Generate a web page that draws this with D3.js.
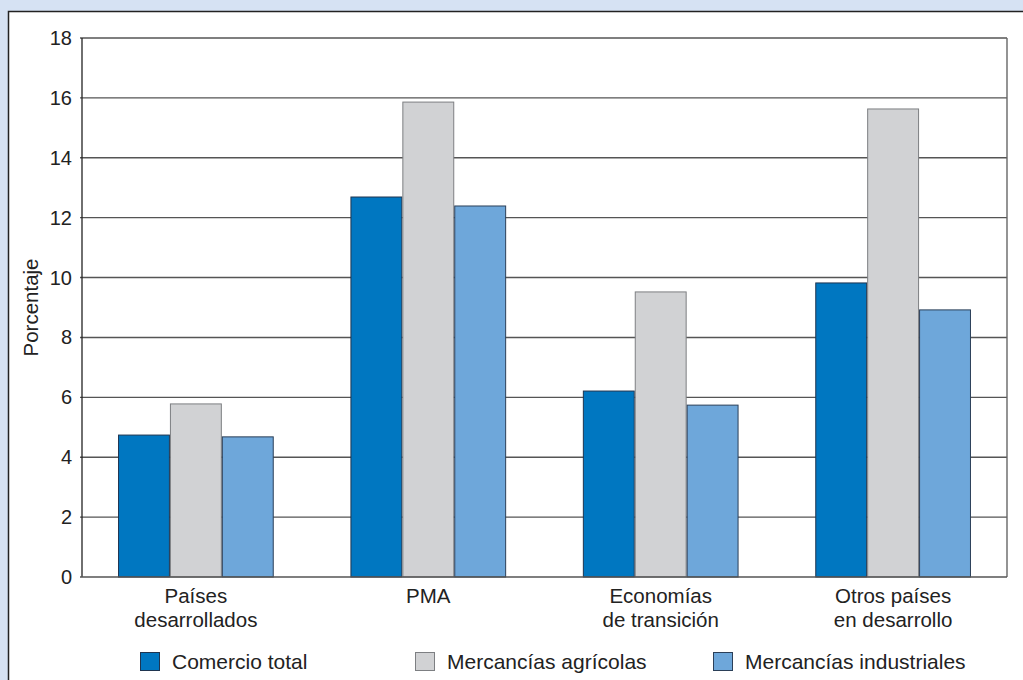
<!DOCTYPE html>
<html>
<head>
<meta charset="utf-8">
<script src="https://cdn.jsdelivr.net/npm/d3@7"></script>
<style>
  body { margin: 0; background: #d6e2f3; }
  svg { display: block; font-family: "Liberation Sans", Arial, sans-serif; }
</style>
</head>
<body>
<div id="chart"></div>
<script>
// categories (two-line labels)
var categories = [
    ['Países', 'desarrollados'],
    ['PMA'],
    ['Economías', 'de transición'],
    ['Otros países', 'en desarrollo']
];
var series = ['Comercio total', 'Mercancías agrícolas', 'Mercancías industriales'];
var comercio_total = [4.74, 12.69, 6.21, 9.82];
var agricolas      = [5.78, 15.86, 9.52, 15.63];
var industriales   = [4.68, 12.39, 5.74, 8.92];
var y_ticks = [0, 2, 4, 6, 8, 10, 12, 14, 16, 18];

var colors  = ['#0077c1', '#d1d2d4', '#6ea7da'];
var strokes = ['#1f3550', '#7d7f82', '#2b3f58'];

var width = 1023, height = 680;
var margin = {left: 82, top: 38, right: 1007, bottom: 577};

var svg = d3.select('#chart').append('svg')
    .attr('width', width)
    .attr('height', height);

// white panel
svg.append('rect')
    .attr('x', 8.5).attr('y', 11.5)
    .attr('width', width).attr('height', height)
    .style('fill', 'white')
    .style('stroke', '#222')
    .style('stroke-width', 1.5);

var x0 = d3.scaleBand()
    .domain(d3.range(categories.length))
    .range([margin.left, margin.right])
    .paddingInner(0.33)
    .paddingOuter(0.155);

var x1 = d3.scaleBand()
    .domain(d3.range(series.length))
    .range([0, x0.bandwidth()]);

var y = d3.scaleLinear()
    .domain([0, 18])
    .range([margin.bottom, margin.top]);

// gridlines
svg.append('g')
    .selectAll('line')
    .data(y_ticks.filter(function(d) { return d > 0; }))
    .enter()
    .append('line')
    .attr('x1', margin.left - 2)
    .attr('x2', margin.right)
    .attr('y1', function(d) { return y(d); })
    .attr('y2', function(d) { return y(d); })
    .style('stroke', '#555')
    .style('stroke-width', 1.4);

// right border
svg.append('line')
    .attr('x1', margin.right).attr('x2', margin.right)
    .attr('y1', margin.top).attr('y2', margin.bottom)
    .style('stroke', '#666')
    .style('stroke-width', 1.4);

// bars
var data = [comercio_total, agricolas, industriales];
var groups = svg.selectAll('.grp')
    .data(categories)
    .enter()
    .append('g')
    .attr('class', 'grp')
    .attr('transform', function(d, i) { return 'translate(' + x0(i) + ',0)'; });

groups.selectAll('rect')
    .data(function(d, i) { return data.map(function(s, j) { return {s: j, v: s[i]}; }); })
    .enter()
    .append('rect')
    .attr('x', function(d) { return x1(d.s) + 0.5; })
    .attr('y', function(d) { return y(d.v); })
    .attr('width', x1.bandwidth() - 1)
    .attr('height', function(d) { return y(0) - y(d.v); })
    .style('fill', function(d) { return colors[d.s]; })
    .style('stroke', function(d) { return strokes[d.s]; })
    .style('stroke-width', 1);

// axes lines
svg.append('line')
    .attr('x1', margin.left).attr('x2', margin.left)
    .attr('y1', margin.top).attr('y2', margin.bottom)
    .style('stroke', '#222')
    .style('stroke-width', 1.3);
svg.append('line')
    .attr('x1', margin.left - 2).attr('x2', margin.right)
    .attr('y1', margin.bottom).attr('y2', margin.bottom)
    .style('stroke', '#555')
    .style('stroke-width', 1.4);

// y tick labels
svg.append('g')
    .selectAll('text')
    .data(y_ticks)
    .enter()
    .append('text')
    .attr('x', 72)
    .attr('y', function(d) { return y(d) + 7; })
    .style('text-anchor', 'end')
    .style('font-size', '20px')
    .style('fill', '#222')
    .text(function(d) { return d; });

// y axis label
svg.append('text')
    .attr('transform', 'translate(38,' + ((margin.top + margin.bottom) / 2) + ') rotate(-90)')
    .style('text-anchor', 'middle')
    .style('font-size', '20.5px')
    .style('fill', '#222')
    .text('Porcentaje');

// category labels
var cat_labels = svg.append('g')
    .selectAll('text')
    .data(categories)
    .enter()
    .append('text')
    .attr('x', function(d, i) { return x0(i) + x0.bandwidth() / 2; })
    .attr('y', 603)
    .style('text-anchor', 'middle')
    .style('font-size', '20.5px')
    .style('fill', '#222');

cat_labels.selectAll('tspan')
    .data(function(d) { return d; })
    .enter()
    .append('tspan')
    .attr('x', function() { return d3.select(this.parentNode).attr('x'); })
    .attr('dy', function(d, i) { return i == 0 ? 0 : 24; })
    .text(function(d) { return d; });

// legend
var legend_x = [140, 415, 713];
var legend = svg.selectAll('.legend')
    .data(series)
    .enter()
    .append('g')
    .attr('class', 'legend')
    .attr('transform', function(d, i) { return 'translate(' + legend_x[i] + ',652)'; });

legend.append('rect')
    .attr('x', 0.5).attr('y', 0.5)
    .attr('width', 19).attr('height', 18)
    .style('fill', function(d, i) { return colors[i]; })
    .style('stroke', function(d, i) { return strokes[i]; })
    .style('stroke-width', 1);

legend.append('text')
    .attr('x', 32)
    .attr('y', 17)
    .style('font-size', '21px')
    .style('fill', '#222')
    .text(function(d) { return d; });
</script>
</body>
</html>
